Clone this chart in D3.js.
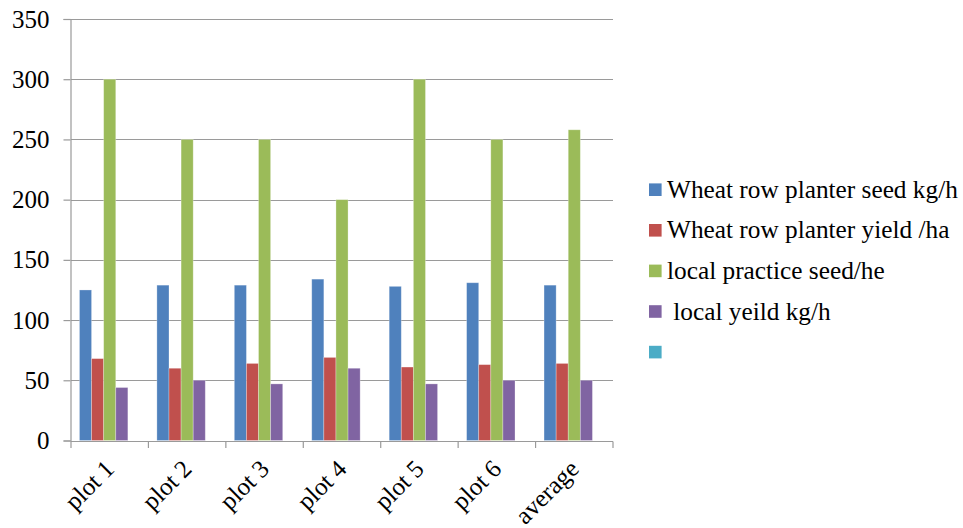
<!DOCTYPE html>
<html>
<head>
<meta charset="utf-8">
<script src="https://cdn.jsdelivr.net/npm/d3@7"></script>
<style>
  html, body { margin: 0; padding: 0; background: #fff; }
  svg { display: block; }
</style>
</head>
<body>
<svg id="chart" width="963" height="528"></svg>
<script>
const categories = ["plot 1", "plot 2", "plot 3", "plot 4", "plot 5", "plot 6", "average"];
const seriesNames = ["Wheat row planter seed kg/h", "Wheat row planter yield /ha", "local practice seed/he", " local yeild kg/h", ""];
const seriesColors = ["#4F81BD", "#C0504D", "#9BBB59", "#8064A2", "#4BACC6"];
const wheatSeed = [125, 129, 129, 134, 128, 131, 129];
const wheatYield = [68, 60, 64, 69, 61, 63, 64];
const localSeed = [300, 250, 250, 200, 300, 250, 258];
const localYield = [44, 50, 47, 60, 47, 50, 50];
const emptySeries = [null, null, null, null, null, null, null];
const yTicks = [0, 50, 100, 150, 200, 250, 300, 350];

const seriesValues = [wheatSeed, wheatYield, localSeed, localYield, emptySeries];

const svg = d3.select("#chart");
const plotLeft = 71, plotRight = 613, plotTop = 19, plotBottom = 440.5;
const fontFam = "Liberation Serif";

const y = d3.scaleLinear().domain([0, 350]).range([plotBottom, plotTop]);
const x0 = d3.scaleBand().domain(categories).range([plotLeft, plotRight]).paddingInner(0).paddingOuter(0);
const x1 = d3.scaleBand().domain(d3.range(seriesNames.length))
  .range([0, x0.bandwidth()]).paddingInner(0).paddingOuter(0.7);

const gridColor = "#9a9a9a";

svg.append("g").selectAll("line").data(yTicks.filter(d => d > 0)).join("line")
  .attr("x1", plotLeft).attr("x2", plotRight)
  .attr("y1", d => Math.round(y(d)) + 0.5).attr("y2", d => Math.round(y(d)) + 0.5)
  .attr("stroke", gridColor).attr("stroke-width", 1.2);

const yAxis = d3.axisLeft(y).tickValues(yTicks).tickSize(7).tickPadding(14).tickFormat(d3.format("d"));
const gy = svg.append("g").attr("transform", `translate(${plotLeft - 0.5},0)`).call(yAxis)
  .attr("font-family", fontFam).attr("font-size", 25);
gy.select(".domain").attr("stroke", gridColor).attr("stroke-width", 1.2);
gy.selectAll(".tick line").attr("stroke", gridColor).attr("stroke-width", 1.2);
gy.selectAll(".tick text").attr("fill", "#000");

const data = categories.map((c, i) => ({ cat: c, vals: seriesValues.map((s, k) => ({ k, v: s[i] })) }));
const groups = svg.append("g").selectAll("g").data(data).join("g")
  .attr("transform", d => `translate(${x0(d.cat)},0)`);
groups.selectAll("rect").data(d => d.vals.filter(v => v.v != null)).join("rect")
  .attr("x", d => x1(d.k))
  .attr("width", x1.bandwidth())
  .attr("y", d => y(d.v))
  .attr("height", d => y(0) - y(d.v))
  .attr("fill", d => seriesColors[d.k])
  .attr("stroke", "rgba(255,255,255,0.35)").attr("stroke-width", 0.8);

const edges = categories.map(c => x0(c)).concat([plotRight]);
svg.append("line").attr("x1", plotLeft - 0.5).attr("x2", plotRight)
  .attr("y1", Math.round(plotBottom) + 0.5).attr("y2", Math.round(plotBottom) + 0.5)
  .attr("stroke", gridColor).attr("stroke-width", 1.2);
svg.append("g").selectAll("line").data(edges).join("line")
  .attr("x1", d => d).attr("x2", d => d)
  .attr("y1", Math.round(plotBottom) + 0.5).attr("y2", Math.round(plotBottom) + 7)
  .attr("stroke", gridColor).attr("stroke-width", 1.2);

svg.append("g").selectAll("text").data(categories).join("text")
  .attr("text-anchor", "end")
  .attr("font-family", fontFam).attr("font-size", 25)
  .attr("transform", d => `translate(${x0(d) + x0.bandwidth() / 2 + 6},${plotBottom + 30}) rotate(-45)`)
  .text(d => d);

const legend = svg.append("g").selectAll("g").data(seriesNames).join("g")
  .attr("transform", (d, i) => `translate(649,${189.7 + i * 40.6})`);
legend.append("rect").attr("x", 0).attr("y", -6.3).attr("width", 12.6).attr("height", 12.6)
  .attr("fill", (d, i) => seriesColors[i]);
legend.append("text").attr("x", 18).attr("y", 8)
  .attr("font-size", 25.3).attr("font-family", fontFam)
  .attr("xml:space", "preserve")
  .text(d => d);
</script>
</body>
</html>
